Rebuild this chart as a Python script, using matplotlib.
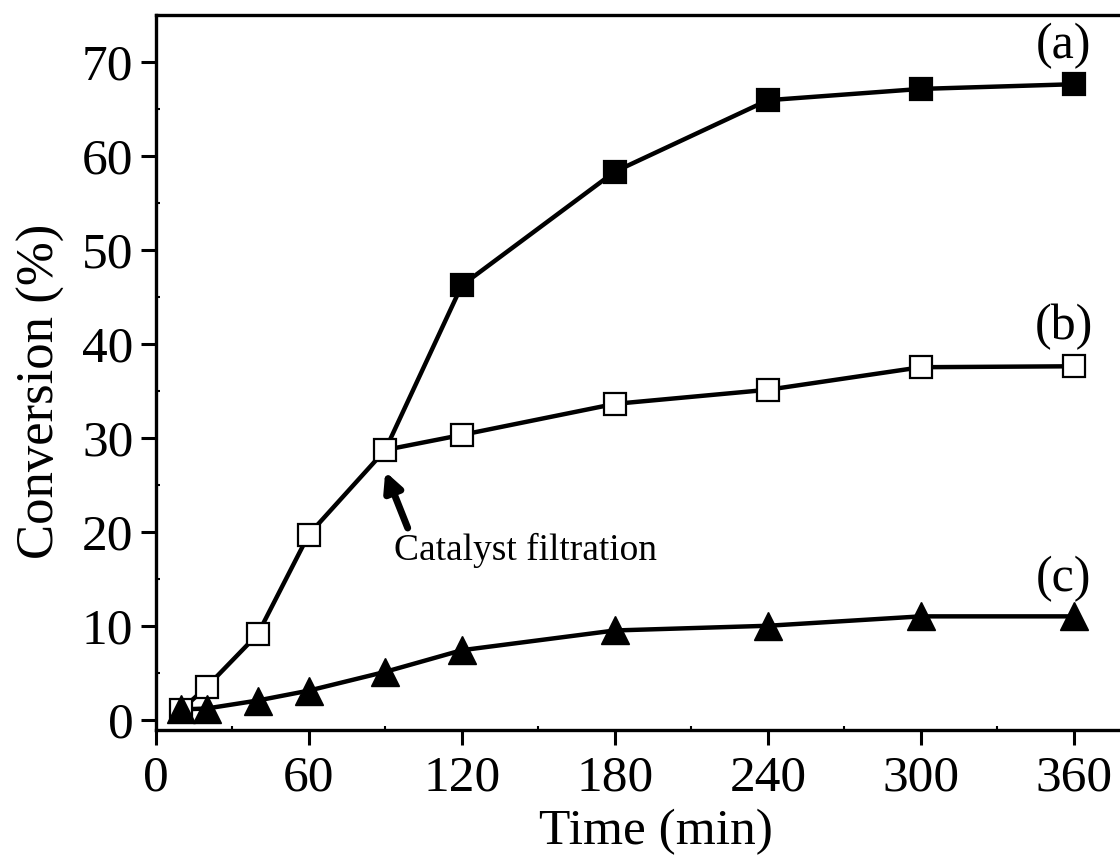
import numpy as np
import matplotlib.pyplot as plt
from matplotlib.ticker import MultipleLocator

# Shared points before the catalyst is filtered off (open squares)
time_early = [10, 20, 40, 60, 90]
conv_early = [1.05, 3.5, 9.1, 19.7, 28.7]

# After 90 min: (a) catalyst kept, (b) catalyst filtered
time_late = [120, 180, 240, 300, 360]
conv_a_late = [46.2, 58.3, 65.9, 67.1, 67.6]
conv_b_late = [30.3, 33.6, 35.1, 37.5, 37.6]

# (c)
time_c = [10, 20, 40, 60, 90, 120, 180, 240, 300, 360]
conv_c = [1.1, 1.2, 2.05, 3.1, 5.1, 7.4, 9.5, 10.0, 11.0, 11.0]


def main():
    plt.rcParams['font.family'] = ['Liberation Serif', 'DejaVu Serif']

    # axes run past the right edge of the figure (right spine cut off)
    fig = plt.figure(figsize=(11.2, 8.61), dpi=100)
    ax = fig.add_axes([0.139, 0.152, 0.8928, 0.831])

    lw = 3.2
    ms_sq = 16
    ms_tri = 20

    # lines first
    ax.plot(time_early + time_late, conv_early + conv_a_late, '-', color='black', lw=lw, zorder=2)
    ax.plot([time_early[-1]] + time_late, [conv_early[-1]] + conv_b_late, '-', color='black', lw=lw, zorder=2)
    ax.plot(time_c, conv_c, '-', color='black', lw=lw, zorder=2)

    # markers
    ax.plot(time_early, conv_early, 's', ms=ms_sq, mfc='white', mec='black', mew=1.6, zorder=3)
    ax.plot(time_late, conv_b_late, 's', ms=ms_sq, mfc='white', mec='black', mew=1.6, zorder=3)
    ax.plot(time_late, conv_a_late, 's', ms=ms_sq, mfc='black', mec='black', mew=1.6, zorder=3)
    ax.plot(time_c, conv_c, '^', ms=ms_tri, mfc='black', mec='black', zorder=4)

    ax.set_xlim(0, 392)
    ax.set_ylim(-1.1, 75)
    ax.xaxis.set_major_locator(MultipleLocator(60))
    ax.xaxis.set_minor_locator(MultipleLocator(30))
    ax.yaxis.set_major_locator(MultipleLocator(10))
    ax.yaxis.set_minor_locator(MultipleLocator(5))

    ax.tick_params(which='major', direction='out', length=11, width=2.2,
                   labelsize=37, pad=5)
    ax.tick_params(which='minor', direction='in', length=3, width=1.5)
    ax.tick_params(axis='x', which='major', pad=7)

    for side in ['left', 'bottom', 'top']:
        ax.spines[side].set_linewidth(2.4)
    ax.spines['right'].set_visible(False)

    ax.set_xlabel('Time (min)', fontsize=37, labelpad=5)
    ax.set_ylabel('Conversion (%)', fontsize=38, labelpad=12)
    ax.yaxis.label.set_y(0.474)

    ax.text(356, 71.7, '(a)', fontsize=36, ha='center', va='center')
    ax.text(356, 41.8, '(b)', fontsize=36, ha='center', va='center')
    ax.text(356, 15.0, '(c)', fontsize=36, ha='center', va='center')

    ax.annotate('', xy=(90.0, 26.4), xytext=(98.8, 20.4),
                arrowprops=dict(arrowstyle='-|>,head_length=1.1,head_width=0.55',
                                color='black', lw=5, shrinkA=0, shrinkB=0))
    ax.text(93.5, 18.0, 'Catalyst filtration', fontsize=27, ha='left', va='center')

    fig.savefig('out.png', dpi=100)


if __name__ == '__main__':
    main()
